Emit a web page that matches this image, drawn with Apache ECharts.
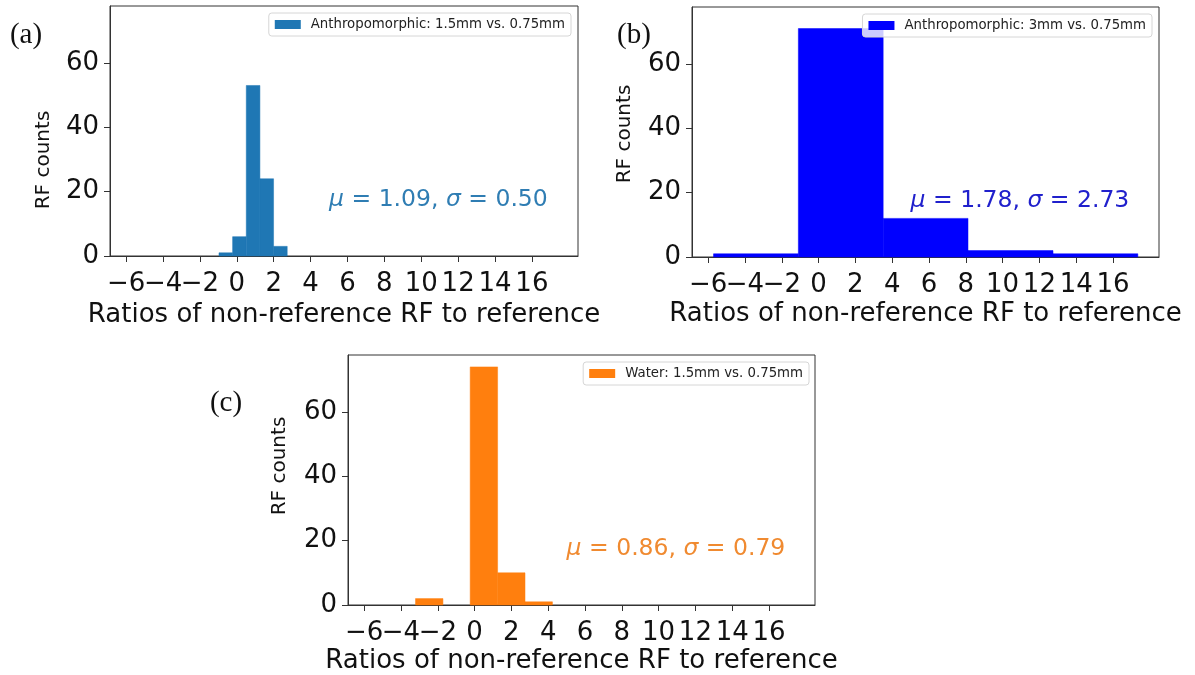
<!DOCTYPE html>
<html>
<head>
<meta charset="utf-8">
<script src="https://cdn.jsdelivr.net/npm/echarts@6/dist/echarts.min.js"></script>
<style>
  html, body { margin: 0; padding: 0; background: #fff; }
  #chart { width: 1195px; height: 675px; }
</style>
</head>
<body>
<div id="chart"></div>
<script>
// Shared axis ticks and limits
const xTicks = [-6, -4, -2, 0, 2, 4, 6, 8, 10, 12, 14, 16];
const yTicks = [0, 20, 40, 60];
const xLimits = [-6.88, 18.5];
const yLimits = [0, 77.7];

// (a) Anthropomorphic 1.5mm vs 0.75mm
const edgesA = [-0.97, -0.23, 0.51, 1.25, 1.99, 2.73];
const countsA = [1, 6, 53, 24, 3];
const nameA = 'Anthropomorphic: 1.5mm vs. 0.75mm';
const statsA = [1.09, 0.50];

// (b) Anthropomorphic 3mm vs 0.75mm
const edgesB = [-5.71, -1.10, 3.51, 8.12, 12.74, 17.35];
const countsB = [1, 71, 12, 2, 1];
const nameB = 'Anthropomorphic: 3mm vs. 0.75mm';
const statsB = [1.78, 2.73];

// (c) Water 1.5mm vs 0.75mm
const edgesC = [-3.21, -1.72, -0.24, 1.25, 2.74, 4.23];
const countsC = [2, 0, 74, 10, 1];
const nameC = 'Water: 1.5mm vs. 0.75mm';
const statsC = [0.86, 0.79];

const xTitle = 'Ratios of non-reference RF to reference';
const yTitle = 'RF counts';
const panelTags = ['(a)', '(b)', '(c)'];
const statAnchor = [5, 15];

const FONT = '"DejaVu Sans", sans-serif';
const SERIF = '"Liberation Serif", "Times New Roman", serif';
const AXIS_COLOR = '#333';
const TICK_FONT = 26;

const panels = [
  { edges: edgesA, counts: countsA, name: nameA, stats: statsA, color: '#1f77b4', statColor: '#2f7db3',
    grid: { left: 110, top: 6, width: 468, height: 250 }, nameGap: 59, yLabelMargin: 11,
    legend: { right: 624, top: 13 }, yTitlePos: [44, 160], tagPos: [26, 35] },
  { edges: edgesB, counts: countsB, name: nameB, stats: statsB, color: '#0000ff', statColor: '#2020cc',
    grid: { left: 692, top: 7, width: 467, height: 250 }, nameGap: 57, yLabelMargin: 11,
    legend: { right: 43, top: 14 }, yTitlePos: [625, 134], tagPos: [634, 35] },
  { edges: edgesC, counts: countsC, name: nameC, stats: statsC, color: '#ff7f0e', statColor: '#f08a30',
    grid: { left: 348, top: 355, width: 467, height: 250 }, nameGap: 56, yLabelMargin: 11,
    legend: { right: 386, top: 362 }, yTitlePos: [280, 466], tagPos: [226, 403] }
];

const fmtTick = v => (v < 0 ? '\u2212' + Math.abs(v) : String(v));

function histData(edges, counts) {
  return counts.map((c, i) => [edges[i], edges[i + 1], c]);
}

function renderBin(params, api) {
  const top = api.coord([api.value(0), api.value(2)]);
  const base = api.coord([api.value(1), 0]);
  const h = base[1] - top[1];
  if (h <= 0) return null;
  const color = api.visual('color');
  return {
    type: 'rect',
    shape: { x: top[0], y: top[1], width: base[0] - top[0], height: h },
    style: { fill: color, stroke: color, lineWidth: 0.5 }
  };
}

const chart = echarts.init(document.getElementById('chart'), null, { renderer: 'canvas' });

const option = {
  animation: false,
  backgroundColor: '#fff',
  grid: panels.map(p => Object.assign({ show: true, borderColor: AXIS_COLOR, borderWidth: 1, containLabel: false }, p.grid)),
  xAxis: panels.map((p, i) => ({
    gridIndex: i, type: 'value', min: xLimits[0], max: xLimits[1],
    axisLine: { show: true, onZero: false, lineStyle: { color: AXIS_COLOR, width: 1 } },
    axisTick: { show: true, length: 6, customValues: xTicks, lineStyle: { color: AXIS_COLOR, width: 1 } },
    // the x tick labels crowd each other, so they are placed below as text at the axis' own tick positions
    axisLabel: { show: false },
    splitLine: { show: false },
    name: xTitle, nameLocation: 'middle', nameGap: p.nameGap,
    nameTextStyle: { fontSize: 26, fontFamily: FONT, color: '#111', verticalAlign: 'middle' }
  })),
  yAxis: panels.map((p, i) => ({
    gridIndex: i, type: 'value', min: yLimits[0], max: yLimits[1],
    axisLine: { show: true, onZero: false, lineStyle: { color: AXIS_COLOR, width: 1 } },
    axisTick: { show: true, length: 6, customValues: yTicks, lineStyle: { color: AXIS_COLOR, width: 1 } },
    axisLabel: { customValues: yTicks, fontSize: TICK_FONT, fontFamily: FONT, color: '#111', margin: p.yLabelMargin,
      showMinLabel: true, showMaxLabel: true },
    splitLine: { show: false }
  })),
  legend: panels.map(p => ({
    data: [{ name: p.name, icon: 'rect' }],
    right: p.legend.right, top: p.legend.top,
    orient: 'vertical',
    itemWidth: 26, itemHeight: 9,
    padding: [5, 6, 5, 6],
    backgroundColor: 'rgba(255,255,255,0.8)',
    borderColor: '#d6d6d6', borderWidth: 1, borderRadius: 3,
    selectedMode: false,
    textStyle: { fontSize: 13.3, fontFamily: FONT, color: '#222', padding: [0, 0, 0, 5] }
  })),
  series: panels.map((p, i) => ({
    type: 'custom', name: p.name,
    xAxisIndex: i, yAxisIndex: i,
    itemStyle: { color: p.color },
    encode: { x: [0, 1], y: 2 },
    renderItem: renderBin,
    data: histData(p.edges, p.counts)
  }))
};

chart.setOption(option);

// Tick labels, titles, panel tags and the mean / std annotations
const graphics = [];
panels.forEach((p, i) => {
  xTicks.forEach(v => {
    const pt = chart.convertToPixel({ gridIndex: i }, [v, yLimits[0]]);
    graphics.push({
      type: 'text', x: pt[0], y: pt[1] + 15 + TICK_FONT / 2,
      style: { text: fmtTick(v), fontSize: TICK_FONT, fontFamily: FONT, fill: '#111', align: 'center', verticalAlign: 'middle' }
    });
  });
  graphics.push({
    type: 'text', x: p.tagPos[0], y: p.tagPos[1],
    style: { text: panelTags[i], font: '29px ' + SERIF, fill: '#111', align: 'center', verticalAlign: 'middle' }
  });
  graphics.push({
    type: 'text', x: p.yTitlePos[0], y: p.yTitlePos[1], rotation: Math.PI / 2,
    style: { text: yTitle, font: '20px ' + FONT, fill: '#111', align: 'center', verticalAlign: 'middle' }
  });
  const px = chart.convertToPixel({ gridIndex: i }, statAnchor);
  const fs = 23.5;
  graphics.push({
    type: 'text', x: px[0], y: px[1] - 0.35 * fs, z: 10,
    style: {
      text: '{i|\u03bc} = ' + p.stats[0].toFixed(2) + ', {i|\u03c3} = ' + p.stats[1].toFixed(2),
      fontSize: fs, fontFamily: FONT, fill: p.statColor,
      align: 'left', verticalAlign: 'middle',
      rich: { i: { fontStyle: 'italic', fontSize: fs, fontFamily: FONT, fill: p.statColor } }
    }
  });
});
chart.setOption({ graphic: graphics });
</script>
</body>
</html>
